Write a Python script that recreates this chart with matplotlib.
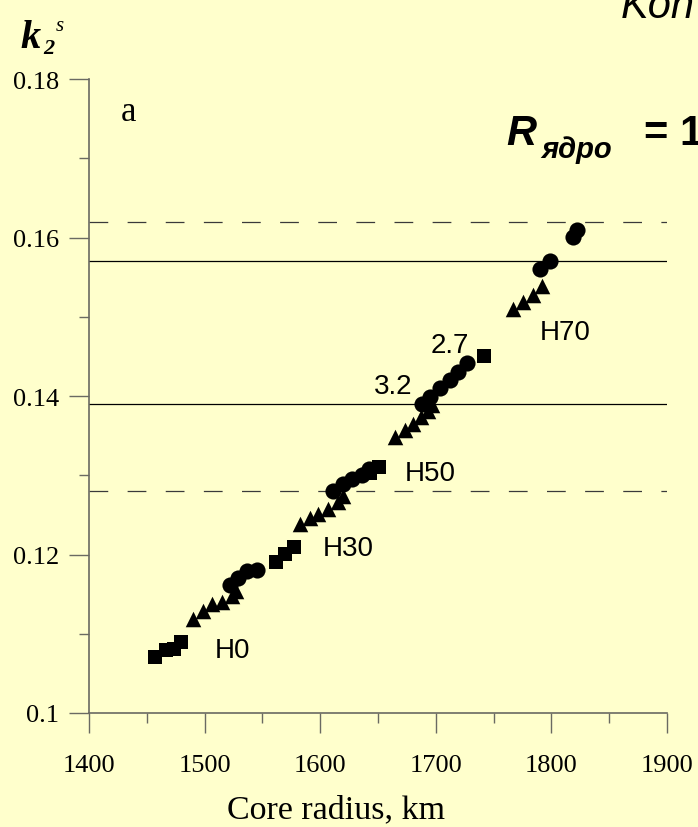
import matplotlib
matplotlib.use("Agg")
import matplotlib.pyplot as plt
from matplotlib.ticker import MultipleLocator, FixedLocator

# ---- data -------------------------------------------------------------
# squares
sq_r = [1457.1, 1466.6, 1473.5, 1479.6, 1561.8, 1569.6, 1577.3, 1643.1, 1650.9, 1741.7]
sq_k = [0.1071, 0.1080, 0.1081, 0.1090, 0.1191, 0.1201, 0.1209, 0.1303, 0.1310, 0.1450]

# triangles
tri_r = [1490.0, 1498.6, 1506.4, 1515.1, 1523.7, 1527.2,
         1582.5, 1591.2, 1598.1, 1606.7, 1615.4, 1619.7,
         1664.7, 1673.4, 1680.3, 1687.2, 1693.3, 1696.7,
         1766.8, 1775.4, 1784.1, 1791.9]
tri_k = [0.1119, 0.1129, 0.1138, 0.1140, 0.1148, 0.1154,
         0.1238, 0.1246, 0.1251, 0.1257, 0.1266, 0.1274,
         0.1348, 0.1357, 0.1365, 0.1374, 0.1381, 0.1389,
         0.1510, 0.1519, 0.1527, 0.1539]

# circles
circ_r = [1522.0, 1528.9, 1536.7, 1545.3,
          1611.1, 1619.7, 1627.5, 1636.2, 1642.2,
          1688.1, 1695.0, 1703.6, 1712.3, 1719.2, 1727.0,
          1790.1, 1798.8, 1818.7, 1822.1]
circ_k = [0.1162, 0.1170, 0.1179, 0.1180,
          0.1280, 0.1289, 0.1295, 0.1300, 0.1308,
          0.1390, 0.1399, 0.1410, 0.1420, 0.1430, 0.1442,
          0.1560, 0.1570, 0.1601, 0.1609]

# reference levels
solid_levels = [0.157, 0.139]
dashed_levels = [0.162, 0.128]

# annotations: (text, r, k)
group_labels = [("H0", 1524, 0.1080), ("H30", 1624, 0.1208),
                ("H50", 1695, 0.1303), ("H70", 1812, 0.1481)]
value_labels = [("3.2", 1663, 0.1412), ("2.7", 1712, 0.1464)]

x_ticks = [1400, 1500, 1600, 1700, 1800, 1900]
y_ticks = [0.1, 0.12, 0.14, 0.16, 0.18]
y_tick_labels = ["0.1", "0.12", "0.14", "0.16", "0.18"]

# ---- figure -----------------------------------------------------------
BG = "#FFFFCC"
SPINE = "#6a6a62"
SERIF = ["Liberation Serif", "DejaVu Serif"]
SANS = ["Liberation Sans", "DejaVu Sans"]

fig = plt.figure(figsize=(6.98, 8.28), dpi=100, facecolor=BG)
ax = fig.add_axes([89 / 698, 1 - 714 / 828, (667 - 89) / 698, (714 - 80) / 828])
ax.set_facecolor(BG)

ax.set_xlim(1400, 1900)
ax.set_ylim(0.1, 0.18)

for s in ("top", "right"):
    ax.spines[s].set_visible(False)
for s in ("left", "bottom"):
    ax.spines[s].set_color(SPINE)
    ax.spines[s].set_linewidth(1.2)

ax.xaxis.set_major_locator(FixedLocator(x_ticks))
ax.xaxis.set_minor_locator(MultipleLocator(50))
ax.yaxis.set_major_locator(FixedLocator(y_ticks))
ax.yaxis.set_minor_locator(MultipleLocator(0.01))
ax.set_yticklabels(y_tick_labels)
ax.tick_params(which="major", direction="out", length=14.5, width=1.0, color=SPINE,
               labelsize=19, labelcolor="black")
ax.tick_params(which="minor", direction="out", length=7.2, width=1.0, color=SPINE)
ax.tick_params(axis="x", which="major", pad=15)
ax.tick_params(axis="y", which="major", pad=7)
for lab in ax.get_xticklabels() + ax.get_yticklabels():
    lab.set_family(SERIF)

# horizontal reference lines
for lv in solid_levels:
    ax.axhline(lv, color="black", lw=0.9, zorder=1)
for lv in dashed_levels:
    ax.axhline(lv, color="#3a3a3a", lw=0.9, linestyle=(0, (15, 15.5)), zorder=1)

# model points
ax.scatter(sq_r, sq_k, marker="s", s=105, c="black", linewidths=0, zorder=3, clip_on=False)
ax.scatter(tri_r, tri_k, marker="^", s=125, c="black", linewidths=0, zorder=3, clip_on=False)
ax.scatter(circ_r, circ_k, marker="o", s=135, c="black", linewidths=0, zorder=4, clip_on=False)

for txt, r, k in group_labels + value_labels:
    ax.text(r, k, txt, family=SANS, fontsize=20, ha="center", va="center", zorder=5)

# panel letter
ax.text(1434, 0.1759, "a", family=SERIF, fontsize=25, ha="center", va="center")

# axis titles
fig.text(336 / 698, 1 - 810 / 828, "Core radius, km", family=SERIF, fontsize=24.5,
         ha="center", va="center")
fig.text(20 / 698, 1 - 48 / 828, "k", family=SERIF, fontsize=29, weight="bold",
         style="italic", ha="left", va="baseline")
fig.text(43 / 698, 1 - 54 / 828, "2", family=SERIF, fontsize=16, weight="bold",
         style="italic", ha="left", va="baseline")
fig.text(56 / 698, 1 - 31 / 828, "s", family=SERIF, fontsize=15,
         style="italic", ha="left", va="baseline")

# slide heading fragments running off the right edge
fig.text(621 / 698, 1 - 18 / 828, "Kon", family=SANS, fontsize=30, style="italic",
         ha="left", va="baseline")
fig.text(506 / 698, 1 - 145 / 828, "R", family=SANS, fontsize=30, weight="bold",
         style="italic", ha="left", va="baseline")
fig.text(541 / 698, 1 - 158 / 828, "ядро", family=SANS, fontsize=21, weight="bold",
         style="italic", ha="left", va="baseline")
fig.text(644 / 698, 1 - 145 / 828, "= 1", family=SANS, fontsize=30, weight="bold",
         ha="left", va="baseline")

fig.savefig("out.png", dpi=100, facecolor=BG)
